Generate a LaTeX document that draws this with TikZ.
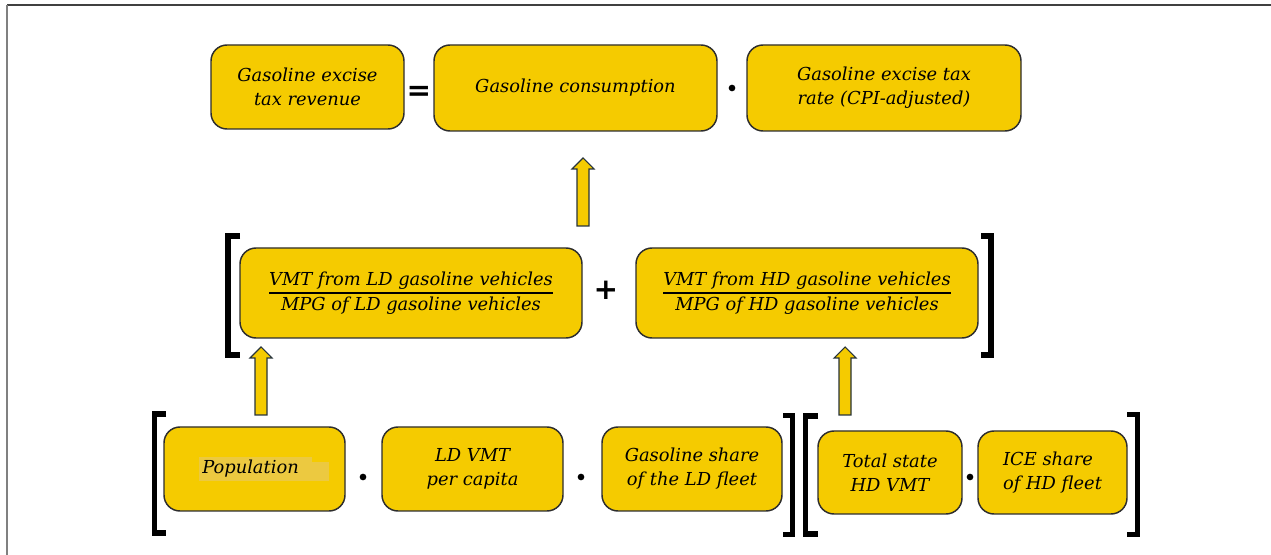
\documentclass[tikz,border=0pt]{standalone}
\usepackage{fontspec}
\setmainfont{DejaVu Serif}
\newfontfamily\symfont{DejaVu Sans}
\definecolor{gold}{RGB}{245,203,0}
\definecolor{hlcol}{RGB}{236,201,64}
\definecolor{edge}{RGB}{45,45,45}
\definecolor{arredge}{RGB}{40,52,58}
\newcommand\uparr[3]{\draw[barrow] (#1-6,#3) -- (#1-6,#2+11) -- (#1-11,#2+11) -- (#1,#2) -- (#1+11,#2+11) -- (#1+6,#2+11) -- (#1+6,#3) -- cycle;}
\tikzset{
  box/.style 2 args={draw=edge, fill=gold, line width=1.1pt, rounded corners=12pt, inner sep=0pt, align=center,
    minimum width=#1*0.75pt, minimum height=#2*0.75pt,
    font=\itshape\fontsize{13.4}{18}\selectfont},
  lbl/.style={inner sep=0pt, align=center, font=\itshape\fontsize{13.4}{18}\selectfont},
  barrow/.style={fill=gold, draw=arredge, line width=0.8pt, line join=miter},
  brk/.style={draw=black, line width=3.8pt, line join=miter, line cap=butt},
  opsym/.style={inner sep=0pt, font=\symfont\bfseries\fontsize{22}{22}\selectfont},
  dotsym/.style={circle, fill=black, inner sep=0pt, minimum size=5pt},
  frameline/.style={line width=1.5pt}
}
\begin{document}
\begin{tikzpicture}[x=0.75pt, y=-0.75pt]
\useasboundingbox (0,0) rectangle (1271,555);
% frame
\draw[frameline, draw=black!75] (7,5) -- (1271,5);
\draw[frameline, draw=black!50] (7,5) -- (7,555);
% row 1
\node[box={193}{84}] (b1) at (307.5,87) {Gasoline excise\\tax revenue};
\node[box={283}{86}] (b2) at (575.5,88) {Gasoline consumption};
\node[box={274}{86}] (b3) at (884,88) {Gasoline excise tax\\rate (CPI-adjusted)};
\node[opsym] (eq) at (419,93) {=};
\node[dotsym] (d1) at (732,88) {};
% arrow to consumption
\uparr{583}{158}{226}
% row 2
\node[box={342}{90}] (b4) at (411,293) {\setlength{\arrayrulewidth}{1.1pt}\begin{tabular}{@{}c@{}}VMT from LD gasoline vehicles\\\hline MPG of LD gasoline vehicles\end{tabular}};
\node[box={342}{90}] (b5) at (807,293) {\setlength{\arrayrulewidth}{1.1pt}\begin{tabular}{@{}c@{}}VMT from HD gasoline vehicles\\\hline MPG of HD gasoline vehicles\end{tabular}};
\node[opsym] (plus) at (606,290) {+};
\draw[brk] (240,236) -- (228,236) -- (228,355) -- (240,355);
\draw[brk] (981,236) -- (991,236) -- (991,355) -- (981,355);
% arrows from row 3
\uparr{261}{347}{415}
\uparr{845}{347}{415}
% row 3
\node[box={181}{84}] (b6) at (254.5,469) {};
\fill[hlcol] (199,457) rectangle (329,481);
\fill[gold] (312,457) rectangle (329,462);
\node[lbl, anchor=west] (pop) at (202,469) {Population};
\node[box={181}{84}] (b7) at (472.5,469) {LD VMT\\per capita};
\node[box={180}{84}] (b8) at (692,469) {Gasoline share\\of the LD fleet};
\node[box={144}{83}] (b9) at (890,472.5) {Total state\\HD VMT};
\node[box={149}{83}] (b10) at (1052.5,472.5) {\begin{tabular}{@{}l@{}}ICE share\\of HD fleet\end{tabular}};
\node[dotsym] (d2) at (363,477) {};
\node[dotsym] (d3) at (581,477) {};
\node[dotsym] (d4) at (970,477) {};
\draw[brk] (166,414) -- (154.5,414) -- (154.5,533) -- (166,533);
\draw[brk] (783,415.5) -- (792.5,415.5) -- (792.5,534.5) -- (783,534.5);
\draw[brk] (818,416) -- (805.5,416) -- (805.5,534) -- (818,534);
\draw[brk] (1127,414.5) -- (1137.5,414.5) -- (1137.5,534.5) -- (1127,534.5);
\end{tikzpicture}
\end{document}
